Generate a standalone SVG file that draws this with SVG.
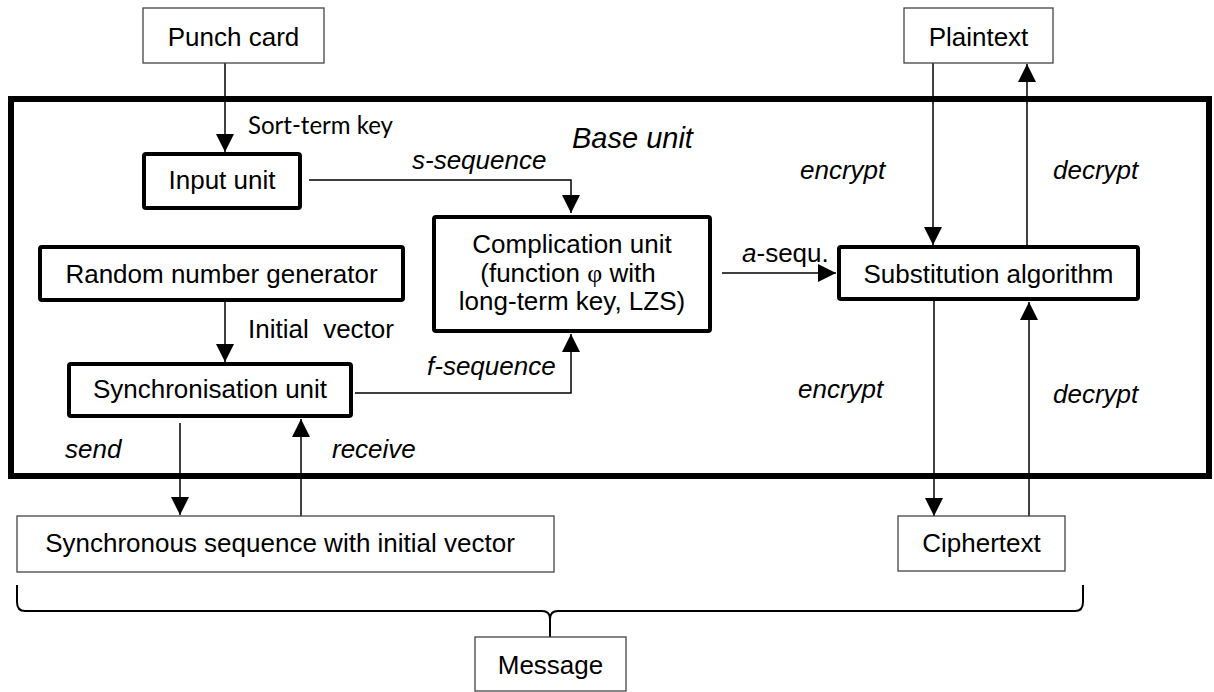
<svg xmlns="http://www.w3.org/2000/svg" width="1214" height="692" viewBox="0 0 1214 692">
<defs>
<style>
.thin{fill:#fff;stroke:#444;stroke-width:1.3}
.thick{fill:#fff;stroke:#000;stroke-width:4}
.t{font-family:"Liberation Sans",Arial,sans-serif;font-size:26px;fill:#000}
.c{text-anchor:middle}
.i{font-style:italic}
.con{fill:none;stroke:#000;stroke-width:1.5}
</style>
<marker id="ah" markerUnits="userSpaceOnUse" markerWidth="18" markerHeight="18" refX="18" refY="9" orient="auto">
<path d="M0,0 L18,9 L0,18 z" fill="#000"/>
</marker>
</defs>
<rect width="1214" height="692" fill="#fff"/>
<g id="base-unit">
<rect x="11" y="99" width="1198" height="377" fill="none" stroke="#000" stroke-width="6"/>
<text class="t i" x="572" y="148" style="font-size:29px">Base unit</text>
</g>
<g id="connectors">
<path class="con" d="M225,63 L225,152" marker-end="url(#ah)"/>
<path class="con" d="M309,180 L571,180 L571,213" marker-end="url(#ah)"/>
<path class="con" d="M225,302 L225,362" marker-end="url(#ah)"/>
<path class="con" d="M355,393 L571,393 L571,334" marker-end="url(#ah)"/>
<path class="con" d="M722,273 L836,273" marker-end="url(#ah)"/>
<path class="con" d="M933,63 L933,245" marker-end="url(#ah)"/>
<path class="con" d="M1027,245 L1027,64" marker-end="url(#ah)"/>
<path class="con" d="M934,301 L934,516" marker-end="url(#ah)"/>
<path class="con" d="M1029,516 L1029,302" marker-end="url(#ah)"/>
<path class="con" d="M180,423 L180,515" marker-end="url(#ah)"/>
<path class="con" d="M301,516 L301,419" marker-end="url(#ah)"/>
<path d="M17,585 L17,602 Q17,611 25,611 L542,611 Q550,611 550,619 L550,637 M550,619 Q550,611 558,611 L1075,611 Q1083,611 1083,602 L1083,585" fill="none" stroke="#000" stroke-width="2"/>
<text x="248" y="134" style="font-family:Lato,'Open Sans',sans-serif;font-size:25px" textLength="145" lengthAdjust="spacingAndGlyphs">Sort-term key</text>
<text class="t i" x="412" y="169">s-sequence</text>
<text class="t" x="742" y="262"><tspan font-style="italic">a</tspan>-sequ.</text>
<text class="t i" x="800" y="179">encrypt</text>
<text class="t i" x="1053" y="179">decrypt</text>
<text class="t i" x="798" y="398">encrypt</text>
<text class="t i" x="1053" y="403">decrypt</text>
<text class="t" x="248" y="338" xml:space="preserve">Initial  vector</text>
<text class="t i" x="427" y="375">f-sequence</text>
<text class="t i" x="65" y="458">send</text>
<text class="t i" x="332" y="458">receive</text>
</g>
<g id="punch-card">
<rect class="thin" x="143" y="8" width="181" height="55"/>
<text class="t c" x="233.5" y="46">Punch card</text>
</g>
<g id="plaintext">
<rect class="thin" x="904" y="8" width="149" height="55"/>
<text class="t c" x="978.5" y="46">Plaintext</text>
</g>
<g id="input-unit">
<rect class="thick" x="144" y="154" width="156" height="54" rx="2"/>
<text class="t c" x="222" y="189">Input unit</text>
</g>
<g id="random-number-generator">
<rect class="thick" x="40" y="247" width="363" height="53" rx="2"/>
<text class="t c" x="221.5" y="283">Random number generator</text>
</g>
<g id="synchronisation-unit">
<rect class="thick" x="69" y="364" width="282" height="52" rx="2"/>
<text class="t c" x="210" y="398">Synchronisation unit</text>
</g>
<g id="complication-unit">
<rect class="thick" x="434" y="217" width="276" height="114" rx="2"/>
<text class="t c" x="572" y="253">Complication unit</text>
<text class="t c" x="568" y="282">(function <tspan style="font-family:'Liberation Serif',serif">φ</tspan> with</text>
<text class="t c" x="572" y="310">long-term key, LZS)</text>
</g>
<g id="substitution-algorithm">
<rect class="thick" x="839" y="247" width="299" height="52" rx="2"/>
<text class="t c" x="988.5" y="283">Substitution algorithm</text>
</g>
<g id="synchronous-sequence">
<rect class="thin" x="17" y="516" width="537" height="56"/>
<text class="t c" x="280" y="552">Synchronous sequence with initial vector</text>
</g>
<g id="ciphertext">
<rect class="thin" x="898" y="516" width="167" height="55"/>
<text class="t c" x="981.5" y="552">Ciphertext</text>
</g>
<g id="message">
<rect class="thin" x="475" y="637" width="151" height="54"/>
<text class="t c" x="550.5" y="674">Message</text>
</g>
</svg>
